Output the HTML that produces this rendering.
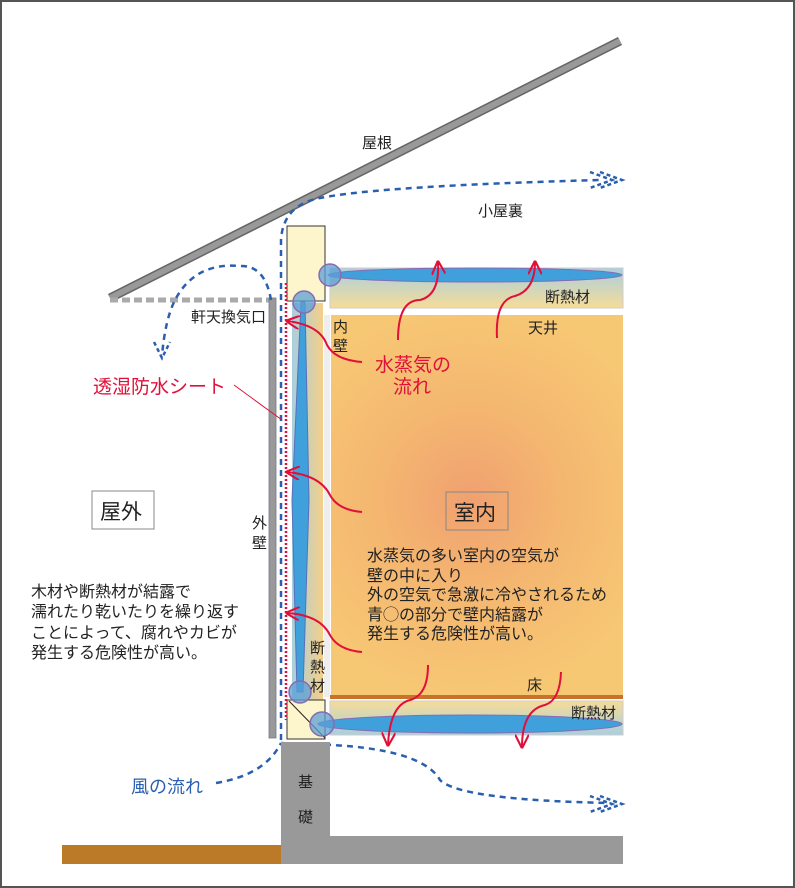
<!DOCTYPE html>
<html><head><meta charset="utf-8"><style>
html,body{margin:0;padding:0;background:#fff}
svg{display:block}
text{font-family:"Liberation Sans","Noto Sans CJK JP",sans-serif;}
</style></head><body>
<svg width="795" height="888" viewBox="0 0 795 888" xmlns="http://www.w3.org/2000/svg">
<defs>
<radialGradient id="room" cx="470" cy="500" r="200" gradientUnits="userSpaceOnUse">
<stop offset="0" stop-color="#f0a070"/><stop offset="0.45" stop-color="#f4b670"/><stop offset="1" stop-color="#f7c874"/>
</radialGradient>
<linearGradient id="ceil" x1="0" y1="0" x2="0" y2="1">
<stop offset="0" stop-color="#a9cfe0"/><stop offset="1" stop-color="#f6dc98"/>
</linearGradient>
<linearGradient id="floor" x1="0" y1="0" x2="0" y2="1">
<stop offset="0" stop-color="#f6dc98"/><stop offset="1" stop-color="#a9cfe0"/>
</linearGradient>
<linearGradient id="wall" x1="0" y1="0" x2="1" y2="0">
<stop offset="0" stop-color="#a9cfe0"/><stop offset="1" stop-color="#f4cf88"/>
</linearGradient>
<marker id="ar" viewBox="0 0 10 10" refX="9" refY="5" markerWidth="7" markerHeight="7" orient="auto"><path d="M0,0 L10,5 L0,10" fill="none" stroke="#e0103a" stroke-width="1.5"/></marker>
</defs>
<rect x="1" y="1" width="793" height="886" fill="#fff" stroke="#555" stroke-width="2"/>

<!-- roof -->
<line x1="110" y1="298" x2="620" y2="41" stroke="#666" stroke-width="9"/>
<line x1="110" y1="298" x2="620" y2="41" stroke="#999" stroke-width="6"/>
<line x1="110" y1="300" x2="272" y2="300" stroke="#aaa" stroke-width="5" stroke-dasharray="8,4"/>
<!-- outer wall -->
<rect x="269" y="298" width="7" height="440" fill="#999" stroke="#778" stroke-width="0.8"/>

<!-- ceiling insulation -->
<rect x="330" y="268" width="293" height="40" fill="url(#ceil)" stroke="#ccc" stroke-width="1"/>
<rect x="330" y="309" width="293" height="4" fill="#fff"/>
<!-- room -->
<rect x="331" y="315" width="292" height="380" fill="url(#room)"/>
<rect x="324" y="315" width="6" height="382" fill="#eee"/>
<!-- floor -->
<rect x="330" y="695" width="293" height="4" fill="#c8722a"/>
<rect x="330" y="701" width="293" height="34" fill="url(#floor)" stroke="#ccc" stroke-width="1"/>
<!-- wall insulation -->
<rect x="292" y="303" width="31" height="397" fill="url(#wall)"/>
<!-- blocks -->
<rect x="287" y="226" width="38" height="75" fill="#fdf6cc" stroke="#333" stroke-width="1"/>
<rect x="287" y="700" width="38" height="39" fill="#fdf6cc" stroke="#333" stroke-width="1"/>
<line x1="289" y1="701" x2="325" y2="738" stroke="#222" stroke-width="1"/>

<!-- blue ellipses -->
<ellipse cx="475" cy="275" rx="147" ry="7" fill="#3fa0dc" stroke="#8a6ab0" stroke-width="1"/>
<ellipse cx="470" cy="724" rx="152" ry="9" fill="#3fa0dc" stroke="#8a6ab0" stroke-width="1"/>
<path d="M301,302 L305,302 L309,500 L303,692 L297,692 L292,500 Z" fill="#3fa0dc" stroke="#5a70b8" stroke-width="1"/>
<g fill="#5b9fd6" fill-opacity="0.75" stroke="#8a6ab0" stroke-width="1.5">
<circle cx="330" cy="275" r="11"/><circle cx="304" cy="302" r="11"/>
<circle cx="300" cy="692" r="11"/><circle cx="322" cy="724" r="12"/>
</g>

<!-- red sheet -->
<line x1="286" y1="283" x2="286" y2="720" stroke="#e0103a" stroke-width="2.5" stroke-dasharray="2,2"/>
<!-- blue airflow -->
<g fill="none" stroke="#2a5fb0" stroke-width="2.5" stroke-dasharray="6,5">
<path d="M281,740 L281,240 Q283,205 320,198 Q380,186 600,180"/>
<path d="M281,743 L300,744 Q420,745 440,780 Q460,800 610,803"/>
<path d="M271,300 Q265,265 240,266 Q195,262 175,300 Q165,320 162,356"/>
<path d="M216,783 Q265,775 281,743"/>
</g>
<path d="M590,172 L612,180 L590,188" fill="none" stroke="#2a5fb0" stroke-width="2.5" stroke-dasharray="4,3"/>
<path d="M600,172 L622,180 L600,188" fill="none" stroke="#2a5fb0" stroke-width="2.5" stroke-dasharray="4,3"/>
<path d="M590,796 L612,804 L590,812" fill="none" stroke="#2a5fb0" stroke-width="2.5" stroke-dasharray="4,3"/>
<path d="M600,796 L622,804 L600,812" fill="none" stroke="#2a5fb0" stroke-width="2.5" stroke-dasharray="4,3"/>
<path d="M154,342 L162,358 L170,342" fill="none" stroke="#2a5fb0" stroke-width="2.5" stroke-dasharray="4,3"/>

<!-- red arrows -->
<g fill="none" stroke="#e0103a" stroke-width="2">
<path d="M398,340 Q398,300 420,300 Q440,295 438,262" marker-end="url(#ar)"/>
<path d="M497,338 Q495,300 515,296 Q535,290 535,262" marker-end="url(#ar)"/>
<path d="M362,362 Q335,360 327,345 Q320,325 287,321" marker-end="url(#ar)"/>
<path d="M362,512 Q338,510 330,495 Q320,475 287,472" marker-end="url(#ar)"/>
<path d="M362,652 Q338,650 330,635 Q320,615 287,613" marker-end="url(#ar)"/>
<path d="M428,665 Q428,695 410,700 Q390,705 388,745" marker-end="url(#ar)"/>
<path d="M561,672 Q560,700 545,705 Q522,710 522,747" marker-end="url(#ar)"/>
</g>
<line x1="234" y1="385" x2="282" y2="420" stroke="#e0103a" stroke-width="1"/>

<!-- foundation -->
<rect x="281" y="742" width="49" height="122" fill="#999"/>
<rect x="330" y="836" width="293" height="28" fill="#999"/>
<rect x="62" y="845" width="219" height="19" fill="#bb7a28"/>

<!-- labels -->
<g font-size="15" fill="#222">
<text x="362" y="148">屋根</text>
<text x="478" y="216">小屋裏</text>
<text x="191" y="322">軒天換気口</text>
<text x="545" y="302">断熱材</text>
<text x="528" y="333">天井</text>
<text x="333" y="332">内</text><text x="333" y="351">壁</text>
<text x="252" y="528">外</text><text x="252" y="548">壁</text>
<text x="310" y="653">断</text><text x="310" y="672">熱</text><text x="310" y="691">材</text>
<text x="527" y="690">床</text>
<text x="571" y="718">断熱材</text>
<text x="298" y="787">基</text><text x="298" y="822">礎</text>
</g>
<g font-size="16" fill="#222">
<text x="31" y="597">木材や断熱材が結露で</text>
<text x="31" y="617">濡れたり乾いたりを繰り返す</text>
<text x="31" y="638">ことによって、腐れやカビが</text>
<text x="31" y="658">発生する危険性が高い。</text>
<text x="367" y="561">水蒸気の多い室内の空気が</text>
<text x="367" y="581">壁の中に入り</text>
<text x="367" y="600">外の空気で急激に冷やされるため</text>
<text x="367" y="620">青◯の部分で壁内結露が</text>
<text x="367" y="639">発生する危険性が高い。</text>
</g>
<g font-size="19" fill="#e0103a">
<text x="375" y="371">水蒸気の</text>
<text x="393" y="393">流れ</text>
<text x="93" y="393">透湿防水シート</text>
</g>
<text x="131" y="793" font-size="18" fill="#2a5fb0">風の流れ</text>
<rect x="92" y="491" width="62" height="38" fill="#fff" stroke="#888" stroke-width="1"/>
<text x="100" y="519" font-size="21" fill="#222">屋外</text>
<rect x="446" y="492" width="62" height="38" fill="none" stroke="#888" stroke-width="1"/>
<text x="454" y="520" font-size="21" fill="#222">室内</text>
</svg>
</body></html>
